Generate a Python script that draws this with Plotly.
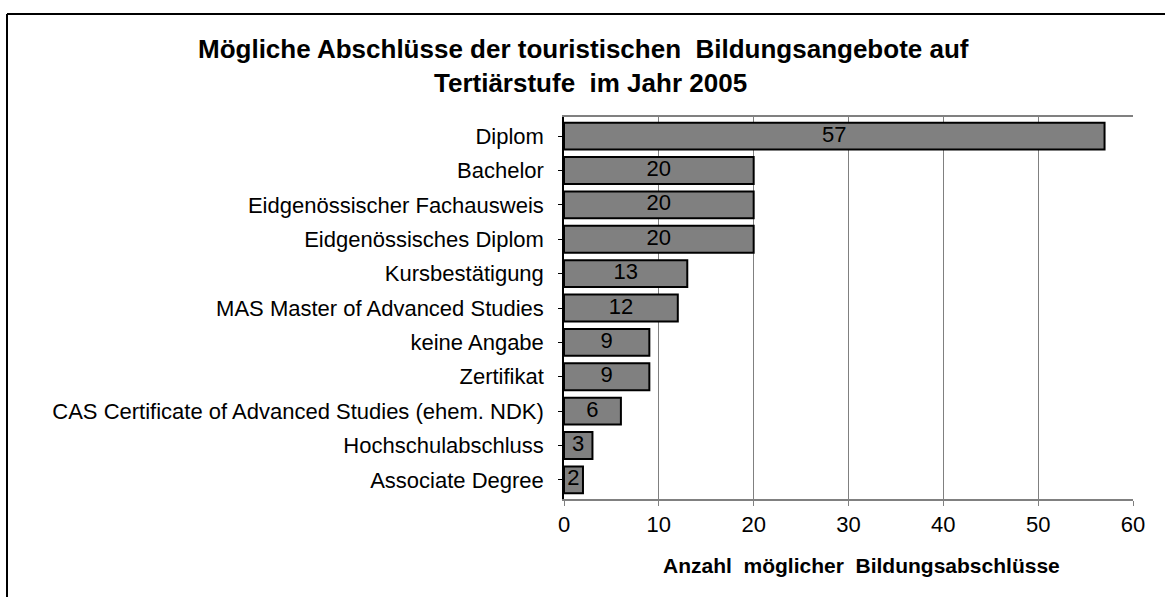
import plotly.graph_objects as go

categories = [
    "Diplom",
    "Bachelor",
    "Eidgenössischer Fachausweis",
    "Eidgenössisches Diplom",
    "Kursbestätigung",
    "MAS Master of Advanced Studies",
    "keine Angabe",
    "Zertifikat",
    "CAS Certificate of Advanced Studies (ehem. NDK)",
    "Hochschulabschluss",
    "Associate Degree",
]
values = [57, 20, 20, 20, 13, 12, 9, 9, 6, 3, 2]
x_ticks = [0, 10, 20, 30, 40, 50, 60]

title_line1 = "Mögliche Abschlüsse der touristischen\u00a0 Bildungsangebote auf"
title_line2 = "Tertiärstufe\u00a0 im Jahr 2005"
x_title = "Anzahl\u00a0 möglicher\u00a0 Bildungsabschlüsse"

FONT = "Liberation Sans, Arial, sans-serif"
W, H = 1165, 597
ml, mr, mt, mb = 564, 32, 117, 98
PW, PH = W - ml - mr, H - mt - mb

fig = go.Figure()
fig.add_trace(go.Bar(
    y=categories, x=values, orientation="h",
    marker=dict(color="#808080", line=dict(color="#000000", width=2)),
    hoverinfo="x+y", showlegend=False,
))
fig.add_trace(go.Scatter(
    y=categories, x=[v / 2 for v in values], mode="text",
    text=[str(v) for v in values], textposition="middle center",
    textfont=dict(family=FONT, size=22, color="#000000"),
    showlegend=False, hoverinfo="skip", cliponaxis=False,
))

fig.update_layout(
    width=W, height=H,
    margin=dict(l=ml, r=mr, t=mt, b=mb),
    paper_bgcolor="white", plot_bgcolor="white",
    bargap=0.22,
    font=dict(family=FONT, size=22, color="#000000"),
    xaxis=dict(
        range=[0, 60], tickvals=x_ticks, ticktext=[str(t) for t in x_ticks],
        showgrid=True, gridcolor="#808080", gridwidth=1,
        showline=True, linecolor="#808080", linewidth=1.5, mirror=True,
        ticks="outside", ticklen=5, tickcolor="#808080",
        tickfont=dict(family=FONT, size=22, color="#000000"),
        zeroline=False, fixedrange=True,
    ),
    yaxis=dict(
        categoryorder="array", categoryarray=categories, autorange="reversed",
        showline=True, linecolor="#000000", linewidth=1.5,
        ticks="outside", ticklen=4, tickcolor="#000000",
        tickfont=dict(family=FONT, size=22, color="#000000"),
        ticklabelstandoff=10,
        showgrid=False, zeroline=False, fixedrange=True,
    ),
    annotations=[
        dict(text="<b>" + title_line1 + "</b>", xref="paper", yref="paper",
             x=(583 - ml) / PW, y=1 + (mt - 49) / PH,
             xanchor="center", yanchor="middle", showarrow=False,
             font=dict(family=FONT, size=26, color="#000000")),
        dict(text="<b>" + title_line2 + "</b>", xref="paper", yref="paper",
             x=(590 - ml) / PW, y=1 + (mt - 83) / PH,
             xanchor="center", yanchor="middle", showarrow=False,
             font=dict(family=FONT, size=26, color="#000000")),
        dict(text="<b>" + x_title + "</b>", xref="paper", yref="paper",
             x=(861 - ml) / PW, y=-(565 - (H - mb)) / PH,
             xanchor="center", yanchor="middle", showarrow=False,
             font=dict(family=FONT, size=21, color="#000000")),
    ],
    shapes=[
        dict(type="line", xref="paper", yref="paper",
             x0=-(ml - 7) / PW, x1=(W - ml) / PW,
             y0=1 + (mt - 14) / PH, y1=1 + (mt - 14) / PH,
             line=dict(color="#000000", width=2)),
        dict(type="line", xref="paper", yref="paper",
             x0=-(ml - 7) / PW, x1=-(ml - 7) / PW,
             y0=1 + (mt - 14) / PH, y1=-mb / PH,
             line=dict(color="#000000", width=2)),
    ],
)

fig.write_html("out.html", config={"displayModeBar": False},
               post_script="document.body.style.margin='0';")
